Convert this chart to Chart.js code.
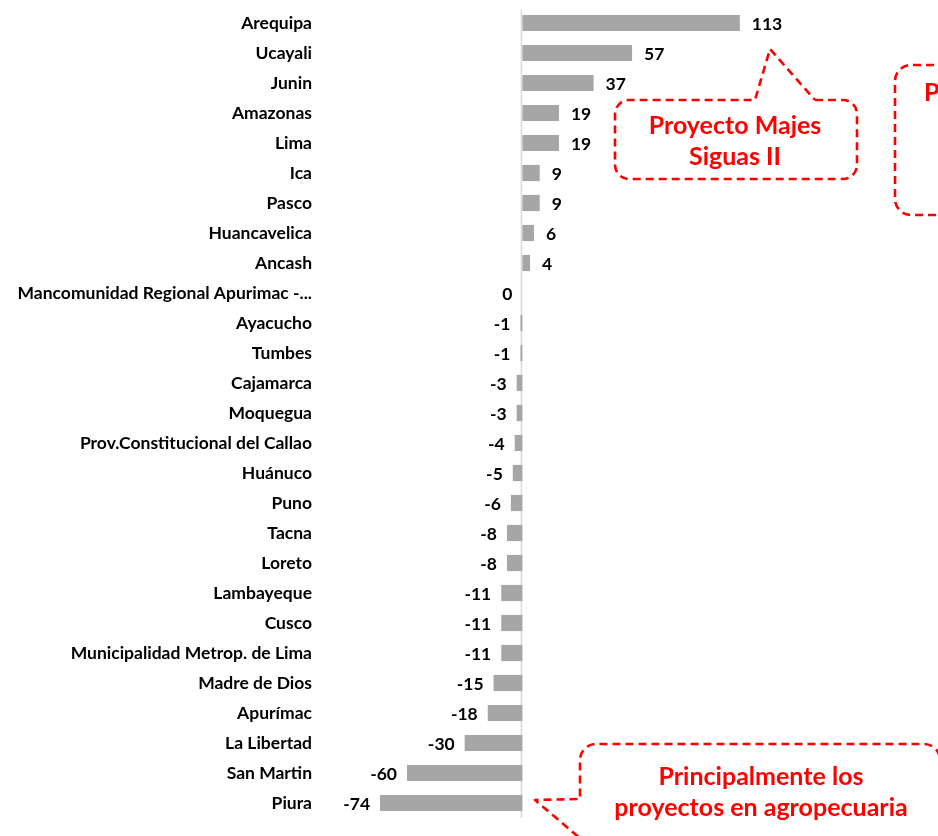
<!DOCTYPE html>
<html>
<head>
<meta charset="utf-8">
<script src="https://cdn.jsdelivr.net/npm/chart.js@4.4.0/dist/chart.umd.min.js"></script>
<style>
html,body{margin:0;padding:0;background:#fff;overflow:hidden;}
#wrap{position:relative;width:938px;height:836px;}
</style>
</head>
<body>
<div id="wrap"><canvas id="c" width="938" height="836"></canvas></div>
<script>
const categories = [
  "Arequipa","Ucayali","Junin","Amazonas","Lima","Ica","Pasco","Huancavelica","Ancash",
  "Mancomunidad Regional Apurimac -...","Ayacucho","Tumbes","Cajamarca","Moquegua",
  "Prov.Constitucional del Callao","Huánuco","Puno","Tacna","Loreto","Lambayeque","Cusco",
  "Municipalidad Metrop. de Lima","Madre de Dios","Apurímac","La Libertad","San Martin","Piura"
];
const values = [113,57,37,19,19,9,9,6,4,0,-1,-1,-3,-3,-4,-5,-6,-8,-8,-11,-11,-11,-15,-18,-30,-60,-74];
const callout1Lines = ["Proyecto Majes","Siguas II"];
const callout2Lines = ["P"];
const callout3Lines = ["Principalmente los","proyectos en agropecuaria"];

const FONT = "Lato, 'Open Sans', sans-serif";
const RED = "#ff0000";

const zeroLine = {
  id:'zeroLine',
  beforeDatasetsDraw(chart){
    const ctx = chart.ctx, x = chart.scales.x.getPixelForValue(0), a = chart.chartArea;
    ctx.save();
    ctx.strokeStyle = '#d9d9d9'; ctx.lineWidth = 1.5;
    ctx.beginPath(); ctx.moveTo(x - 1, a.top + 2); ctx.lineTo(x - 1, a.bottom); ctx.stroke();
    ctx.restore();
  }
};

const dataLabels = {
  id:'dataLabels',
  afterDatasetsDraw(chart){
    const ctx = chart.ctx;
    const meta = chart.getDatasetMeta(0);
    ctx.save();
    ctx.font = "bold 17.5px " + FONT;
    ctx.fillStyle = '#000';
    ctx.textBaseline = 'middle';
    meta.data.forEach((bar, i) => {
      const v = values[i];
      if (v > 0) { ctx.textAlign = 'left'; ctx.fillText(String(v), bar.x + 12, bar.y + 1); }
      else { ctx.textAlign = 'right'; ctx.fillText(String(v), Math.min(bar.x, bar.base) - 10, bar.y + 1); }
    });
    ctx.restore();
  }
};

function drawText(ctx, lines, cx, y0, lh, size, align){
  ctx.font = "bold " + size + "px " + FONT;
  ctx.fillStyle = RED;
  ctx.textAlign = align || 'center';
  ctx.textBaseline = 'middle';
  lines.forEach((t, i) => ctx.fillText(t, cx, y0 + i * lh));
}

const callouts = {
  id:'callouts',
  afterDraw(chart){
    const ctx = chart.ctx;
    ctx.save();
    ctx.strokeStyle = RED; ctx.lineWidth = 2.6; ctx.setLineDash([8,5]);
    ctx.lineJoin = 'round';
    // callout 1
    let L=615, T=100, R=857, B=179, r=14;
    ctx.beginPath();
    ctx.moveTo(815, T);
    ctx.lineTo(R - r, T); ctx.arcTo(R, T, R, T + r, r);
    ctx.lineTo(R, B - r); ctx.arcTo(R, B, R - r, B, r);
    ctx.lineTo(L + r, B); ctx.arcTo(L, B, L, B - r, r);
    ctx.lineTo(L, T + r); ctx.arcTo(L, T, L + r, T, r);
    ctx.lineTo(755, T); ctx.lineTo(770, 49); ctx.lineTo(815, T);
    ctx.stroke();
    // callout 2 (cut off at right)
    L=895; T=65; B=215; r=16;
    ctx.beginPath();
    ctx.moveTo(960, T); ctx.lineTo(L + r, T); ctx.arcTo(L, T, L, T + r, r);
    ctx.lineTo(L, B - r); ctx.arcTo(L, B, L + r, B, r); ctx.lineTo(960, B);
    ctx.stroke();
    // callout 3
    L=580; T=744; R=940; r=16;
    ctx.beginPath();
    ctx.moveTo(588, 845); ctx.lineTo(535, 800); ctx.lineTo(L, 799);
    ctx.lineTo(L, T + r); ctx.arcTo(L, T, L + r, T, r);
    ctx.lineTo(R - r, T); ctx.arcTo(R, T, R, T + r, r); ctx.lineTo(R, 900);
    ctx.stroke();
    ctx.setLineDash([]);
    drawText(ctx, callout1Lines, 735, 126, 31, 25);
    drawText(ctx, callout2Lines, 924, 93, 31, 25, 'left');
    drawText(ctx, callout3Lines, 761, 777, 31, 25);
    ctx.restore();
  }
};

new Chart(document.getElementById('c'), {
  type:'bar',
  data:{ labels:categories, datasets:[{ data:values, backgroundColor:'#a6a6a6', borderWidth:0,
    barPercentage:0.54, categoryPercentage:1 }]},
  options:{
    indexAxis:'y', responsive:false, animation:false,
    layout:{ padding:{ top:8, bottom:18, left:0, right:0 } },
    plugins:{ legend:{display:false}, tooltip:{enabled:false} },
    scales:{
      x:{ display:false, min:-100, max:216 },
      y:{
        grid:{ display:false, drawTicks:false }, border:{ display:false },
        ticks:{ color:'#000', font:{ family:FONT, size:17.5, weight:'bold' }, padding:18, autoSkip:false },
        afterFit(s){ s.width = 330; s.paddingTop = 0; s.paddingBottom = 0; }
      }
    }
  },
  plugins:[zeroLine, dataLabels, callouts]
});
</script>
</body>
</html>
